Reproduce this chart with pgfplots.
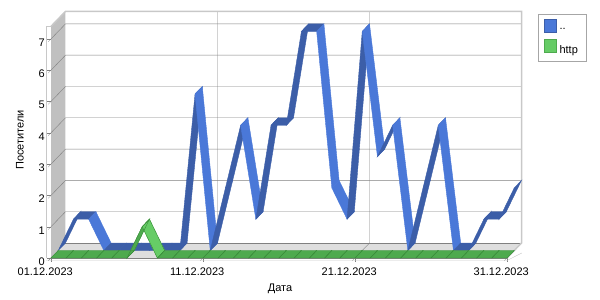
\documentclass[border=0pt]{standalone}
\usepackage{pgfplots}
\usepackage{pgfplotstable}
\usepackage{fontspec}
\setmainfont{Liberation Sans}
\pgfplotsset{compat=1.18}
\definecolor{bluel}{RGB}{74,120,216}
\definecolor{blued}{RGB}{60,94,168}
\definecolor{greenl}{RGB}{102,204,102}
\definecolor{greend}{RGB}{78,170,78}
\definecolor{gridc}{RGB}{128,128,128}
\definecolor{wallc}{RGB}{192,192,192}
\definecolor{floorc}{RGB}{222,222,222}
\definecolor{edgec}{RGB}{200,200,200}
\newcommand\ff{\fontsize{11bp}{13bp}\selectfont}
\pgfplotsset{
  colormap={bluemap}{rgb255=(74,120,216) rgb255=(60,94,168)},
  colormap={greenmap}{rgb255=(102,204,102) rgb255=(78,170,78)},
  colormap={greenline}{rgb255=(58,140,58) rgb255=(58,140,58)},
}
% d = day - 1, v = visitors, s = 1 if the segment to the next day rises or stays, 0 if it falls
\pgfplotstableread{
d v s
0 0 1
1 1 1
2 1 0
3 0 1
4 0 1
5 0 1
6 0 1
7 0 1
8 0 1
9 5 0
10 0 1
11 2 1
12 4 0
13 1 1
14 4 1
15 4 1
16 7 1
17 7 0
18 2 0
19 1 1
20 7 0
21 3 1
22 4 0
23 0 1
24 2 1
25 4 0
26 0 1
27 0 1
28 1 1
29 1 1
30 2 1
}\bluedata
\pgfplotstableread{
d v s
0 0 1
1 0 1
2 0 1
3 0 1
4 0 1
5 0 1
6 1 0
7 0 1
8 0 1
9 0 1
10 0 1
11 0 1
12 0 1
13 0 1
14 0 1
15 0 1
16 0 1
17 0 1
18 0 1
19 0 1
20 0 1
21 0 1
22 0 1
23 0 1
24 0 1
25 0 1
26 0 1
27 0 1
28 0 1
29 0 1
30 0 1
}\greendata
\pgfplotstablevertcat{\bluesurf}{\bluedata}
\pgfplotstablevertcat{\bluesurf}{\bluedata}
\pgfplotstablevertcat{\greensurf}{\greendata}
\pgfplotstablevertcat{\greensurf}{\greendata}
\begin{document}
\begin{tikzpicture}
\path[use as bounding box] (0,0) rectangle (600bp,300bp);
\begin{axis}[
  at={(51bp,42bp)}, anchor=origin,
  x={(15.2bp,0bp)}, y={(14.5bp,15bp)}, z={(0bp,31.3bp)},
  xmin=0, xmax=30, ymin=0, ymax=1, zmin=0, zmax=7.4,
  clip=false,
  axis lines*=left,
  axis line style={draw=gray},
  xtick={0,10,20,30},
  xticklabels={01.12.2023,11.12.2023,21.12.2023,31.12.2023},
  ytick=\empty,
  ztick={0,1,2,3,4,5,6,7},
  tick align=outside,
  major tick length=4bp,
  tick style={draw=gray},
  tick label style={font=\ff},
  xticklabel style={yshift=-3bp},
  zticklabel style={yshift=2bp},
  /pgf/number format/assume math mode=true,
  legend style={at={(1.035,0.99)}, anchor=north west, draw=gray!70,
    font=\ff, inner xsep=6bp, inner ysep=5bp, row sep=6bp, column sep=1bp},
  legend cell align=left,
]
% floor and left wall
\addplot3[fill=floorc, draw=none, forget plot] coordinates {(0,0,0) (30,0,0) (30,1,0) (0,1,0) (0,0,0)};
\addplot3[fill=wallc, draw=none, forget plot] coordinates {(0,0,0) (0,1,0) (0,1,7.4) (0,0,7.4) (0,0,0)};
% grid
\addplot3[gridc, forget plot] coordinates {(0,1,0) (30,1,0)};
\addplot3[gridc, forget plot] coordinates {(0,0,1) (0,1,1) (30,1,1)};
\addplot3[gridc, forget plot] coordinates {(0,0,2) (0,1,2) (30,1,2)};
\addplot3[gridc, forget plot] coordinates {(0,0,3) (0,1,3) (30,1,3)};
\addplot3[gridc, forget plot] coordinates {(0,0,4) (0,1,4) (30,1,4)};
\addplot3[gridc, forget plot] coordinates {(0,0,5) (0,1,5) (30,1,5)};
\addplot3[gridc, forget plot] coordinates {(0,0,6) (0,1,6) (30,1,6)};
\addplot3[gridc, forget plot] coordinates {(0,0,7) (0,1,7) (30,1,7)};
\addplot3[gridc, forget plot] coordinates {(10,0,0) (10,1,0) (10,1,7.4)};
\addplot3[gridc, forget plot] coordinates {(20,0,0) (20,1,0) (20,1,7.4)};
% wall edges
\addplot3[edgec, line width=1.5bp, forget plot] coordinates {(0,0,7.4) (0,1,7.4) (30,1,7.4) (30,1,0) (30,0,0)};
\addplot3[edgec, forget plot] coordinates {(-0.33,0,0) (-0.33,0,7.4) (0,0,7.4)};
\addplot3[edgec, forget plot] coordinates {(-0.33,0,-0.08) (30,0,-0.08) (30.5,0.5,-0.08)};
% series
\addplot3[surf, shader=flat corner, mesh/cols=31, colormap name=bluemap,
  point meta=\thisrow{s}, point meta min=0, point meta max=1, forget plot]
  table[x=d, y expr={\coordindex<31 ? 0.5 : 1}, z=v] {\bluesurf};
\addplot3[surf, shader=flat corner, mesh/cols=31, colormap name=greenmap,
  point meta=\thisrow{s}, point meta min=0, point meta max=1, forget plot]
  table[x=d, y expr={\coordindex<31 ? 0 : 0.5}, z=v] {\greensurf};
\addplot3[mesh, mesh/cols=31, colormap name=greenline, line width=0.4bp,
  point meta=\thisrow{s}, point meta min=0, point meta max=1, forget plot]
  table[x=d, y expr={\coordindex<31 ? 0 : 0.5}, z=v] {\greensurf};
\addlegendimage{legend image code/.code={\filldraw[fill=bluel,draw=blued] (0bp,-2.5bp) rectangle (12bp,10.5bp);}}
\addlegendentry{..}
\addlegendimage{legend image code/.code={\filldraw[fill=greenl,draw=greend] (0bp,-2.5bp) rectangle (12bp,10.5bp);}}
\addlegendentry{http}
\end{axis}
\node[font=\ff] at (280bp,11bp) {Дата};
\node[font=\ff, rotate=90] at (20bp,160bp) {Посетители};
\end{tikzpicture}
\end{document}
